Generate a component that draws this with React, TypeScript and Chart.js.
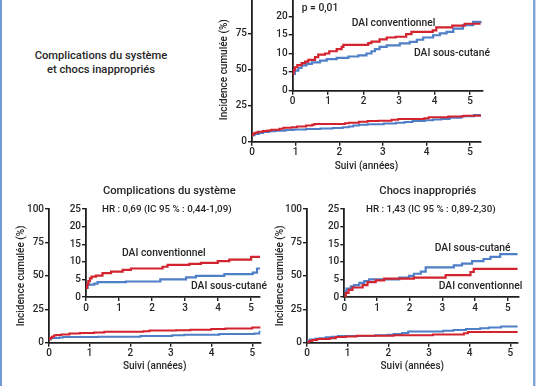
import React, { useEffect, useRef } from "react";
import { Chart, registerables } from "chart.js";

Chart.register(...registerables);

const FONT = "Roboto, 'DejaVu Sans', Arial, sans-serif";
const RED = "#d2232f";
const BLUE = "#4f7fc6";
const AXIS = "#1f1f1f";
const INK = "#262626";
const WEIGHT = 500;

// ---- axes ----
const xTickYears = [0, 1, 2, 3, 4, 5];
const mainYTicks = [0, 25, 50, 75, 100];
const insetYTicks = [0, 5, 10, 15, 20, 25];
const yAxisTitle = "Incidence cumulée (%)";
const xAxisTitle = "Suivi (années)";

// ---- Panel A: complications du système et chocs inappropriés ----
const allConvT = [0, 0.02, 0.06, 0.13, 0.25, 0.35, 0.44, 0.63, 0.72, 0.91, 1.03, 1.24, 1.38, 1.43, 2.13, 2.22, 2.45, 2.65, 2.9, 3.2, 3.35, 3.95, 4.05, 4.5, 4.85, 5.3];
const allConvV = [4.5, 5.5, 6.3, 6.9, 7.4, 7.8, 8.3, 9.0, 9.7, 10.0, 10.6, 11.2, 11.8, 12.3, 12.8, 13.2, 13.8, 14.3, 14.5, 15.2, 15.8, 16.2, 17.0, 17.5, 18.0, 18.0];
const allSubqT = [0, 0.06, 0.16, 0.25, 0.39, 0.54, 0.77, 0.96, 1.24, 1.57, 1.85, 2.08, 2.22, 2.32, 2.45, 2.65, 3.02, 3.3, 3.5, 3.68, 3.96, 4.15, 4.34, 4.53, 4.8, 5.09, 5.3];
const allSubqV = [4.5, 5.4, 6.1, 6.8, 7.2, 7.6, 8.1, 8.5, 8.8, 9.2, 9.5, 10.0, 10.6, 11.2, 11.8, 12.2, 12.7, 13.1, 13.7, 14.3, 14.9, 15.4, 15.8, 16.7, 17.6, 18.5, 18.7];

// ---- Panel B: complications du système ----
const compConvT = [0, 0.03, 0.07, 0.12, 0.17, 0.3, 0.5, 0.76, 1.11, 1.36, 2.32, 2.47, 3.13, 3.48, 3.99, 4.34, 5.0, 5.3];
const compConvV = [2.6, 3.5, 4.5, 5.3, 5.8, 6.1, 6.8, 7.2, 7.7, 8.1, 8.6, 9.1, 9.4, 9.7, 10.2, 10.6, 11.4, 11.4];
const compSubqT = [0, 0.05, 0.25, 0.35, 1.21, 2.25, 3.03, 3.33, 4.19, 5.05, 5.18, 5.3];
const compSubqV = [2.6, 3.5, 3.8, 4.2, 4.4, 5.0, 5.6, 6.0, 6.5, 6.9, 8.1, 8.1];

// ---- Panel C: chocs inappropriés ----
const shockConvT = [0, 0.05, 0.13, 0.25, 0.56, 0.71, 0.96, 1.22, 2.13, 3.1, 3.86, 3.96, 5.3];
const shockConvV = [0, 1.2, 2.0, 2.7, 3.4, 4.2, 4.7, 5.2, 5.5, 6.2, 7.1, 8.0, 8.0];
const shockSubqT = [0, 0.07, 0.2, 0.3, 0.46, 0.61, 0.76, 1.68, 1.98, 2.13, 2.34, 2.49, 3.35, 3.6, 3.91, 4.26, 4.47, 4.77, 5.3];
const shockSubqV = [1.7, 2.4, 3.0, 3.4, 4.0, 4.5, 5.0, 5.5, 6.0, 6.6, 7.2, 8.4, 9.0, 9.5, 10.2, 10.8, 11.4, 12.2, 12.2];

type Series = { t: number[]; v: number[]; color: string };

type KMProps = {
  left: number;
  top: number;
  width: number;
  height: number;
  padL: number;
  padR: number;
  padT: number;
  padB: number;
  xMax: number;
  yMax: number;
  yTicks: number[];
  series: Series[];
  lineWidth: number;
  titles: boolean;
};

function KMChart(p: KMProps) {
  const ref = useRef<HTMLCanvasElement>(null);
  const cLeft = Math.floor(p.left - p.padL);
  const cTop = Math.floor(p.top - p.padT);
  const cW = Math.ceil(p.left + p.width + p.padR) - cLeft;
  const cH = Math.ceil(p.top + p.height + p.padB) - cTop;
  const pL = p.left - cLeft;
  const pT = p.top - cTop;
  const pR = cW - pL - p.width;
  const pB = cH - pT - p.height;

  useEffect(() => {
    if (!ref.current) return;
    const tickFont = { family: FONT, size: 10, weight: WEIGHT };
    const chart = new Chart(ref.current, {
      type: "line",
      data: {
        datasets: p.series.map((s) => ({
          data: s.t.map((t, i) => ({ x: t, y: s.v[i] })),
          borderColor: s.color,
          borderWidth: p.lineWidth,
          stepped: "before" as const,
          pointRadius: 0,
          fill: false,
          tension: 0,
        })),
      },
      options: {
        responsive: false,
        animation: false,
        events: [],
        layout: { padding: { top: pT, right: pR, left: 0, bottom: 0 } },
        plugins: { legend: { display: false }, tooltip: { enabled: false } },
        scales: {
          x: {
            type: "linear",
            min: 0,
            max: p.xMax,
            afterBuildTicks: (s: any) => {
              s.ticks = xTickYears.map((v) => ({ value: v }));
            },
            afterFit: (s: any) => {
              s.height = pB;
            },
            grid: { drawOnChartArea: false, drawTicks: true, tickLength: 4, color: AXIS, lineWidth: 1.4 },
            border: { display: true, color: AXIS, width: 1.8 },
            ticks: { color: INK, font: tickFont, padding: 1, maxRotation: 0, autoSkip: false },
            title: p.titles
              ? { display: true, text: xAxisTitle, color: INK, font: { family: FONT, size: 10, weight: WEIGHT }, padding: 0 }
              : { display: false },
          },
          y: {
            type: "linear",
            min: 0,
            max: p.yMax,
            afterBuildTicks: (s: any) => {
              s.ticks = p.yTicks.map((v) => ({ value: v }));
            },
            afterFit: (s: any) => {
              s.width = pL;
            },
            grid: { drawOnChartArea: false, drawTicks: true, tickLength: 4, color: AXIS, lineWidth: 1.4 },
            border: { display: true, color: AXIS, width: 1.8 },
            ticks: { color: INK, font: tickFont, padding: 1, autoSkip: false },
            title: p.titles
              ? { display: true, text: yAxisTitle, color: INK, font: { family: FONT, size: 10, weight: WEIGHT }, padding: 0 }
              : { display: false },
          },
        },
      },
    } as any);
    return () => chart.destroy();
  }, []);

  return (
    <canvas
      ref={ref}
      width={cW}
      height={cH}
      style={{ position: "absolute", left: cLeft, top: cTop, width: cW, height: cH }}
    />
  );
}

function Label(props: { x: number; y: number; text: string; size?: number; center?: boolean }) {
  const size = props.size ?? 10.3;
  return (
    <div
      style={{
        position: "absolute",
        left: props.x,
        top: props.y - 7,
        height: 14,
        lineHeight: "14px",
        fontFamily: FONT,
        fontSize: size,
        fontWeight: WEIGHT,
        color: INK,
        whiteSpace: "nowrap",
        transform: props.center ? "translateX(-50%)" : undefined,
      }}
    >
      {props.text}
    </div>
  );
}

export default function App() {
  const seriesA: Series[] = [
    { t: allConvT, v: allConvV, color: RED },
    { t: allSubqT, v: allSubqV, color: BLUE },
  ];
  const seriesB: Series[] = [
    { t: compConvT, v: compConvV, color: RED },
    { t: compSubqT, v: compSubqV, color: BLUE },
  ];
  const seriesC: Series[] = [
    { t: shockConvT, v: shockConvV, color: RED },
    { t: shockSubqT, v: shockSubqV, color: BLUE },
  ];

  return (
    <div
      style={{
        position: "absolute",
        left: 0,
        top: 0,
        width: 536,
        height: 386,
        overflow: "hidden",
        background: "#ffffff",
      }}
    >
      {/* Panel A */}
      <KMChart left={252} top={-2.3} width={229} height={144} padL={34} padR={8} padT={10} padB={30}
        xMax={5.25} yMax={100} yTicks={mainYTicks} series={seriesA} lineWidth={2} titles={true} />
      <KMChart left={292.7} top={-2.3} width={189.7} height={93} padL={26} padR={6} padT={10} padB={16}
        xMax={5.35} yMax={25} yTicks={insetYTicks} series={seriesA} lineWidth={2.2} titles={false} />

      {/* Panel B */}
      <KMChart left={49} top={209} width={211.4} height={133.7} padL={33.3} padR={8} padT={10} padB={29.3}
        xMax={5.2} yMax={100} yTicks={mainYTicks} series={seriesB} lineWidth={2} titles={true} />
      <KMChart left={86} top={209} width={174} height={88} padL={26} padR={6} padT={10} padB={16}
        xMax={5.27} yMax={25} yTicks={insetYTicks} series={seriesB} lineWidth={2.2} titles={false} />

      {/* Panel C */}
      <KMChart left={307} top={209} width={210.6} height={133.7} padL={33} padR={8} padT={10} padB={29.3}
        xMax={5.18} yMax={100} yTicks={mainYTicks} series={seriesC} lineWidth={2} titles={true} />
      <KMChart left={344.3} top={209} width={173.9} height={88} padL={26} padR={6} padT={10} padB={16}
        xMax={5.32} yMax={25} yTicks={insetYTicks} series={seriesC} lineWidth={2.2} titles={false} />

      {/* texts */}
      <Label x={101} y={55.7} text="Complications du système" size={11.2} center />
      <Label x={101} y={69.7} text="et chocs inappropriés" size={11.2} center />
      <Label x={301.7} y={8.3} text="p = 0,01" />
      <Label x={351.7} y={22.7} text="DAI conventionnel" />
      <Label x={414} y={53.3} text="DAI sous-cutané" />

      <Label x={169.3} y={190.7} text="Complications du système" size={11.2} center />
      <Label x={102} y={209} text="HR : 0,69 (IC 95 % : 0,44-1,09)" size={9.8} />
      <Label x={122} y={252.5} text="DAI conventionnel" />
      <Label x={191} y={285.5} text="DAI sous-cutané" />

      <Label x={427.8} y={190.7} text="Chocs inappropriés" size={11.2} center />
      <Label x={366} y={209} text="HR : 1,43 (IC 95 % : 0,89-2,30)" size={9.8} />
      <Label x={434.7} y={247.7} text="DAI sous-cutané" />
      <Label x={438.7} y={285.7} text="DAI conventionnel" />

      {/* frame lines */}
      <div style={{ position: "absolute", left: 0, top: 0, width: 2, height: 386, background: "#6f9ad3" }} />
      <div style={{ position: "absolute", left: 533, top: 0, width: 2, height: 386, background: "#7ea4d8" }} />
      <div style={{ position: "absolute", left: 535, top: 0, width: 1, height: 386, background: "#c9d8ee" }} />
    </div>
  );
}
